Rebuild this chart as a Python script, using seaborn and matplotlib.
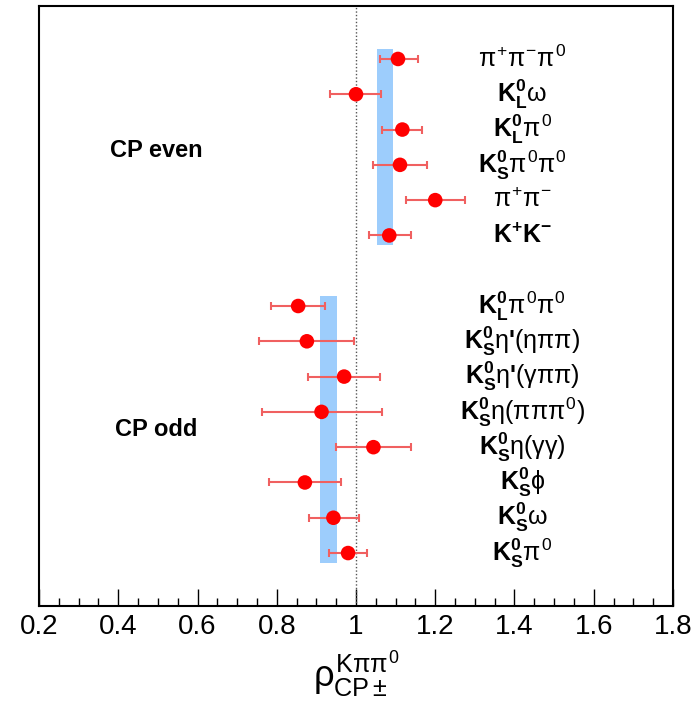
import numpy as np
import pandas as pd
import seaborn as sns
import matplotlib.pyplot as plt
from matplotlib.ticker import MultipleLocator

# channel labels, top to bottom
even_labels = [r'$\pi^{+}\pi^{-}\pi^{0}$',
               r'$\mathbf{K}^{\mathbf{0}}_{\mathbf{L}}\omega$',
               r'$\mathbf{K}^{\mathbf{0}}_{\mathbf{L}}\pi^{0}$',
               r'$\mathbf{K}^{\mathbf{0}}_{\mathbf{S}}\pi^{0}\pi^{0}$',
               r'$\pi^{+}\pi^{-}$',
               r'$\mathbf{K}^{\mathbf{+}}\mathbf{K}^{\mathbf{-}}$']
odd_labels = [r'$\mathbf{K}^{\mathbf{0}}_{\mathbf{L}}\pi^{0}\pi^{0}$',
              r"$\mathbf{K}^{\mathbf{0}}_{\mathbf{S}}\eta$'$(\eta\pi\pi)$",
              r"$\mathbf{K}^{\mathbf{0}}_{\mathbf{S}}\eta$'$(\gamma\pi\pi)$",
              r'$\mathbf{K}^{\mathbf{0}}_{\mathbf{S}}\eta(\pi\pi\pi^{0})$',
              r'$\mathbf{K}^{\mathbf{0}}_{\mathbf{S}}\eta(\gamma\gamma)$',
              r'$\mathbf{K}^{\mathbf{0}}_{\mathbf{S}}\phi$',
              r'$\mathbf{K}^{\mathbf{0}}_{\mathbf{S}}\omega$',
              r'$\mathbf{K}^{\mathbf{0}}_{\mathbf{S}}\pi^{0}$']

# rho values and asymmetric error bar ends
even_val = [1.106, 1.000, 1.117, 1.111, 1.200, 1.084]
even_lo = [1.060, 0.934, 1.065, 1.042, 1.125, 1.034]
even_hi = [1.156, 1.063, 1.167, 1.180, 1.275, 1.138]

odd_val = [0.854, 0.876, 0.970, 0.913, 1.044, 0.871, 0.943, 0.980]
odd_lo = [0.785, 0.755, 0.878, 0.762, 0.949, 0.781, 0.881, 0.933]
odd_hi = [0.923, 0.995, 1.061, 1.066, 1.140, 0.962, 1.008, 1.027]

# combined averages (band edges)
even_band = [1.052, 1.094]
odd_band = [0.910, 0.952]

sns.set_style('white')
plt.rcParams['font.family'] = ['Liberation Sans', 'DejaVu Sans']
plt.rcParams['text.color'] = 'black'
plt.rcParams['xtick.color'] = 'black'
plt.rcParams['axes.labelcolor'] = 'black'
plt.rcParams['mathtext.fontset'] = 'custom'
plt.rcParams['mathtext.rm'] = 'Liberation Sans'
plt.rcParams['mathtext.it'] = 'Liberation Sans'
plt.rcParams['mathtext.bf'] = 'Liberation Sans:bold'

df = pd.DataFrame({
    'label': even_labels + odd_labels,
    'val': even_val + odd_val,
    'lo': even_lo + odd_lo,
    'hi': even_hi + odd_hi,
    'group': ['even'] * len(even_val) + ['odd'] * len(odd_val),
})
# leave a one-row gap between the two groups
df['pos'] = list(range(len(even_val))) + list(range(len(even_val) + 1, len(even_val) + 1 + len(odd_val)))

fig = plt.figure(figsize=(6.92, 7.09), dpi=100)
ax = fig.add_axes([0.0564, 0.1453, 0.9161, 0.8462])

# bands
for grp, band in [('even', even_band), ('odd', odd_band)]:
    p = df.loc[df.group == grp, 'pos']
    ax.fill_betweenx([p.min() - 0.28, p.max() + 0.28], band[0], band[1],
                     color='#9dcdfc', lw=0, zorder=1)

ax.axvline(1.0, color='#555555', ls=(0, (1, 1.5)), lw=1.0, zorder=2)

ax.errorbar(df['val'], df['pos'], xerr=[df['val'] - df['lo'], df['hi'] - df['val']],
            fmt='none', ecolor='#f06060', elinewidth=1.5, capsize=3, capthick=1.5, zorder=3)
sns.scatterplot(data=df, x='val', y='pos', color='#ff0000', s=110, edgecolor='none',
                zorder=4, ax=ax, legend=False)

for _, r in df.iterrows():
    ax.text(1.42, r['pos'], r['label'], ha='center', va='center', fontsize=18,
            fontweight='bold')

ax.text(0.495, 2.58, 'CP even', ha='center', va='center', fontsize=17, fontweight='bold')
ax.text(0.495, 10.5, 'CP odd', ha='center', va='center', fontsize=17, fontweight='bold')

ax.set_xlim(0.2, 1.8)
ax.set_ylim(15.5, -1.5)
ax.set_yticks([])
ax.set_ylabel('')
ax.xaxis.set_major_locator(MultipleLocator(0.2))
ax.xaxis.set_minor_locator(MultipleLocator(0.05))
ax.set_xticks(np.arange(0.2, 1.81, 0.2))
ax.set_xticklabels(['0.2', '0.4', '0.6', '0.8', '1', '1.2', '1.4', '1.6', '1.8'])
ax.tick_params(axis='x', which='major', direction='in', length=12, width=1, labelsize=20,
               pad=6, bottom=True, top=False)
ax.tick_params(axis='x', which='minor', direction='in', length=6, width=1,
               bottom=True, top=False)
ax.set_xlabel(r'$\rho^{\mathrm{K}\pi\pi^{0}}_{\mathrm{CP}\pm}$', fontsize=26, labelpad=6)
for s in ax.spines.values():
    s.set_color('black')
    s.set_linewidth(1.5)

fig.savefig('out.png', dpi=100)
